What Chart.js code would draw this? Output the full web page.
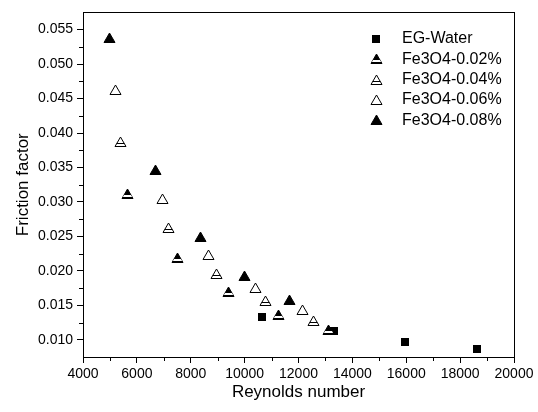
<!DOCTYPE html>
<html>
<head>
<meta charset="utf-8">
<script src="https://cdn.jsdelivr.net/npm/chart.js@4.4.0/dist/chart.umd.min.js"></script>
<style>
  html, body { margin: 0; padding: 0; background: #fff; }
  #wrap { width: 538px; height: 412px; }
</style>
</head>
<body>
<div id="wrap"><canvas id="frictionChart" width="538" height="412"></canvas></div>
<script>
// series
const seriesNames = ['EG-Water', 'Fe3O4-0.02%', 'Fe3O4-0.04%', 'Fe3O4-0.06%', 'Fe3O4-0.08%'];

const reWater = [10667, 13333, 15963, 18630];
const fWater  = [0.0133, 0.0113, 0.0097, 0.0087];

const re002 = [5667, 7519, 9407, 11259, 13111];
const f002  = [0.0311, 0.0219, 0.0169, 0.0136, 0.0114];

const re004 = [5407, 7185, 8963, 10778, 12556];
const f004  = [0.0387, 0.0262, 0.0196, 0.0156, 0.0127];

const re006 = [5222, 6963, 8667, 10407, 12148];
const f006  = [0.0462, 0.0304, 0.0223, 0.0175, 0.0143];

const re008 = [5000, 6704, 8370, 10000, 11667];
const f008  = [0.0538, 0.0346, 0.0249, 0.0193, 0.0157];

const xTicks = [4000, 6000, 8000, 10000, 12000, 14000, 16000, 18000, 20000];
const yTicks = [0.010, 0.015, 0.020, 0.025, 0.030, 0.035, 0.040, 0.045, 0.050, 0.055];

const FONT = 'Arial, "Liberation Sans", sans-serif';

// little canvases used as point styles
const makeMarker = (kind) => {
    const c = document.createElement('canvas');
    c.width = 13;
    c.height = 12;
    const g = c.getContext('2d');
    g.fillStyle = '#000';
    g.strokeStyle = '#000';
    g.lineWidth = 1;
    if (kind === 'square') {
        g.fillRect(2, 2, 8, 8);
        return c;
    }
    const tri = () => {
        g.beginPath();
        g.moveTo(6.5, 1);
        g.lineTo(12, 10.5);
        g.lineTo(1, 10.5);
        g.closePath();
    };
    if (kind === 'filled' || kind === 'half') {
        tri();
        g.fill();
        tri();
        g.stroke();
        if (kind === 'half') {
            g.save();
            tri();
            g.clip();
            g.fillStyle = '#fff';
            g.fillRect(0, 7, 13, 2);
            g.restore();
        }
    } else {
        g.fillStyle = '#fff';
        tri();
        g.fill();
        tri();
        g.stroke();
        if (kind === 'hatch') {
            g.save();
            tri();
            g.clip();
            g.beginPath();
            g.moveTo(0, 7.5);
            g.lineTo(13, 7.5);
            g.stroke();
            g.restore();
        }
    }
    return c;
};

const markers = [makeMarker('square'), makeMarker('half'), makeMarker('hatch'), makeMarker('open'), makeMarker('filled')];
const xs = [reWater, re002, re004, re006, re008];
const ys = [fWater, f002, f004, f006, f008];

const datasets = seriesNames.map((name, i) => ({
    label: name,
    data: xs[i].map((x, j) => ({ x: x, y: ys[i][j] })),
    pointStyle: markers[i],
    pointRadius: 0,
    backgroundColor: '#000',
    borderColor: '#000',
    showLine: false
}));

const stamp = (ctx, img, x, y) => {
    ctx.drawImage(img, Math.round(x - img.width / 2), Math.round(y - img.height / 2));
};

// markers at whole pixels, box, minor ticks and the legend
const framePlugin = {
    id: 'frame',
    afterDatasetsDraw(chart) {
        const ctx = chart.ctx;
        chart.data.datasets.forEach((ds, i) => {
            chart.getDatasetMeta(i).data.forEach(pt => stamp(ctx, ds.pointStyle, pt.x, pt.y));
        });
    },
    afterDraw(chart) {
        const { ctx, chartArea: a, scales } = chart;
        ctx.save();
        ctx.strokeStyle = '#000';
        ctx.lineWidth = 1;
        ctx.strokeRect(Math.round(a.left) + 0.5, Math.round(a.top) + 0.5,
            Math.round(a.right - a.left), Math.round(a.bottom - a.top));

        ctx.beginPath();
        for (let v = 5000; v < 20000; v += 2000) {
            const px = Math.round(scales.x.getPixelForValue(v)) + 0.5;
            ctx.moveTo(px, a.bottom);
            ctx.lineTo(px, a.bottom + 4);
        }
        for (let v = 0.0125; v < 0.055; v += 0.005) {
            const py = Math.round(scales.y.getPixelForValue(v)) + 0.5;
            ctx.moveTo(a.left, py);
            ctx.lineTo(a.left - 4, py);
        }
        ctx.stroke();

        ctx.font = '16px ' + FONT;
        ctx.fillStyle = '#000';
        ctx.textBaseline = 'middle';
        chart.data.datasets.forEach((ds, i) => {
            const y = 39 + i * 20.3;
            stamp(ctx, ds.pointStyle, 376.5, y);
            ctx.fillText(ds.label, 402, y);
        });
        ctx.restore();
    }
};

new Chart(document.getElementById('frictionChart'), {
    type: 'scatter',
    data: { datasets: datasets },
    options: {
        responsive: false,
        animation: false,
        devicePixelRatio: 1,
        layout: { padding: { left: 0, top: 9, right: 24, bottom: 0 } },
        plugins: {
            legend: { display: false },
            tooltip: { enabled: false }
        },
        scales: {
            x: {
                type: 'linear',
                min: 4000,
                max: 20000,
                afterBuildTicks: (scale) => { scale.ticks = xTicks.map(v => ({ value: v })); },
                afterFit: (scale) => { scale.height = 55; },
                border: { display: true, color: '#000', width: 1 },
                grid: { drawOnChartArea: false, drawTicks: true, tickLength: 6, color: '#000' },
                ticks: {
                    color: '#000',
                    padding: 3,
                    maxRotation: 0,
                    font: { family: FONT, size: 14 },
                    callback: (v) => String(v)
                },
                title: {
                    display: true,
                    text: 'Reynolds number',
                    color: '#000',
                    font: { family: FONT, size: 17 },
                    padding: { top: 0, bottom: 9 }
                }
            },
            y: {
                type: 'linear',
                min: 0.0075,
                max: 0.0575,
                afterBuildTicks: (scale) => { scale.ticks = yTicks.map(v => ({ value: v })); },
                afterFit: (scale) => { scale.width = 83; },
                border: { display: true, color: '#000', width: 1 },
                grid: { drawOnChartArea: false, drawTicks: true, tickLength: 6, color: '#000' },
                ticks: {
                    color: '#000',
                    padding: 4,
                    font: { family: FONT, size: 14 },
                    callback: (v) => Number(v).toFixed(3)
                },
                title: {
                    display: true,
                    text: 'Friction factor',
                    color: '#000',
                    font: { family: FONT, size: 17 },
                    padding: { top: 13, bottom: 0 }
                }
            }
        }
    },
    plugins: [framePlugin]
});
</script>
</body>
</html>
